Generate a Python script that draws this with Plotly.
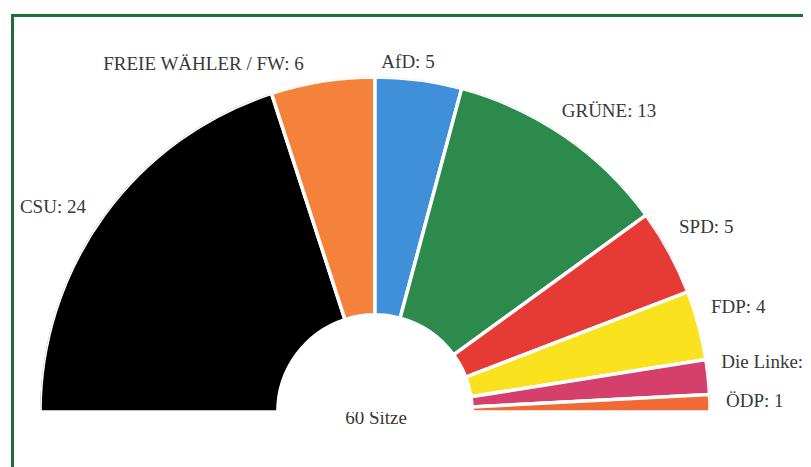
import math
import plotly.graph_objects as go

parties = ["CSU", "FREIE WÄHLER / FW", "AfD", "GRÜNE", "SPD", "FDP", "Die Linke", "ÖDP"]
seats = [24, 6, 5, 13, 5, 4, 2, 1]
colors = ["#000000", "#f5823a", "#3f90d8", "#2b8a4c", "#e63b35", "#fae31e", "#d43f6b", "#f06a35"]
total_label = "60 Sitze"

# label placement (radius factor, angle offset in degrees, text position)
label_r = [1.056, 1.057, 1.047, 1.055, 1.061, 1.050, 1.044, 1.048]
label_dtheta = [0.8, 2.6, 2.1, 2.6, 2.7, 2.2, 2.0, 0.1]
label_pos = ["middle left", "middle left", "middle center", "middle right",
             "middle right", "middle right", "middle right", "middle right"]

W, H = 811, 467
OFF = 8            # page body margin
CX, CY = 375 - OFF, 412 - OFF   # centre in figure pixels
R = 335.0
hole = 0.29
FONT = dict(family="Liberation Serif", size=19, color="#383838")

total = sum(seats)
deg_per_seat = 180.0 / total
widths = [s * deg_per_seat for s in seats]
mids = []
start = 180.0
for w in widths:
    mids.append(start - w / 2)
    start -= w

fig = go.Figure()
fig.add_trace(go.Barpolar(
    r=[1 - hole] * len(seats),
    base=[hole] * len(seats),
    theta=mids,
    width=widths,
    marker=dict(color=colors, line=dict(color="white", width=3.5)),
    hoverinfo="skip",
    showlegend=False,
))

# labels on a hidden cartesian overlay whose unit equals the outer radius
texts = [f"{p}: {s}" for p, s in zip(parties, seats)]
for t, m, rr, dt, pos in zip(texts, mids, label_r, label_dtheta, label_pos):
    a = math.radians(m + dt)
    fig.add_trace(go.Scatter(
        x=[rr * math.cos(a)], y=[rr * math.sin(a)], mode="text", text=[t], textposition=pos,
        textfont=FONT, cliponaxis=False, showlegend=False, hoverinfo="skip",
    ))
fig.add_trace(go.Scatter(
    x=[0.003], y=[-0.021], mode="text", text=[total_label], textposition="middle center",
    textfont=FONT, cliponaxis=False, showlegend=False, hoverinfo="skip",
))

fig.update_layout(
    width=W, height=H,
    margin=dict(l=0, r=0, t=0, b=0),
    paper_bgcolor="white",
    plot_bgcolor="rgba(0,0,0,0)",
    xaxis=dict(visible=False, range=[-CX / R, (W - CX) / R], domain=[0, 1], fixedrange=True),
    yaxis=dict(visible=False, range=[-(H - CY) / R, CY / R], domain=[0, 1], fixedrange=True),
    polar=dict(
        domain=dict(x=[(CX - R) / W, (CX + R) / W], y=[(H - CY) / H, (H - CY + R) / H]),
        sector=[0, 180],
        bgcolor="white",
        radialaxis=dict(visible=False, range=[0, 1]),
        angularaxis=dict(visible=False, direction="counterclockwise", rotation=0),
    ),
    shapes=[dict(
        type="rect", xref="paper", yref="paper",
        x0=(12.5 - OFF) / W, x1=1.03, y0=-0.03, y1=1 - (15.5 - OFF) / H,
        line=dict(color="#1b6f37", width=3),
    )],
)

fig.write_html("out.html")
